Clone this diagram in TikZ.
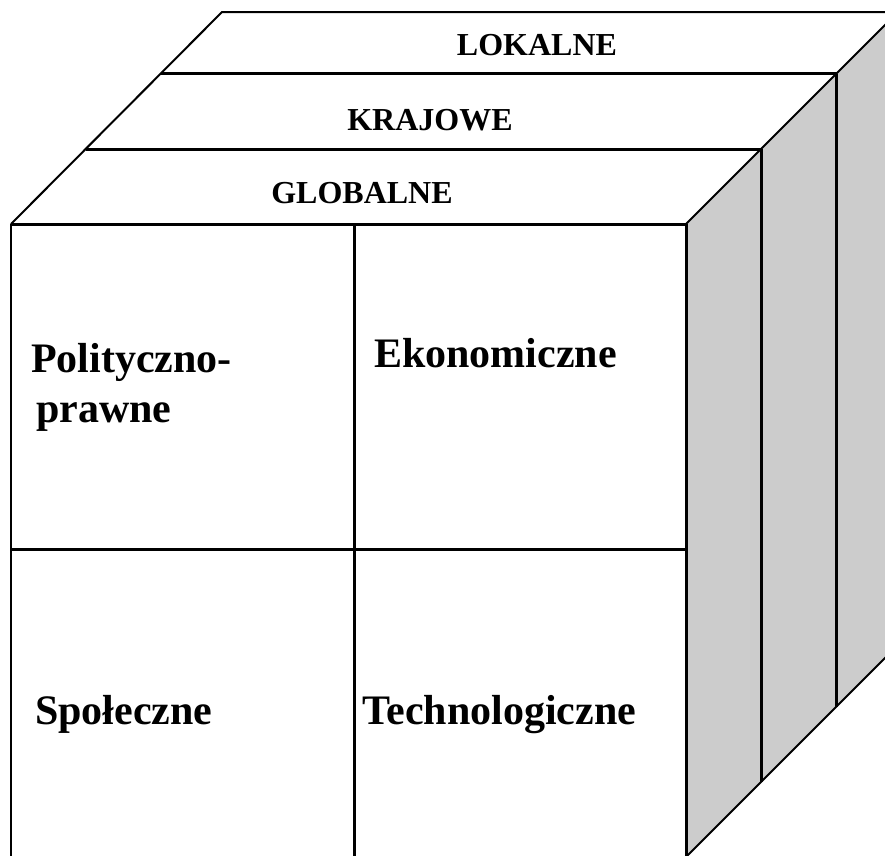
\documentclass[tikz,border=0pt]{standalone}
\usepackage{fontspec}
\setmainfont{Liberation Serif}
\definecolor{sideface}{HTML}{CCCCCC}
\begin{document}
\begin{tikzpicture}[x=1pt,y=-1pt,
  edge/.style={line width=2pt,line join=miter},
  grid/.style={line width=3pt},
  layerlabel/.style={inner sep=0pt,anchor=base,font=\bfseries\fontsize{32}{38}\selectfont},
  fieldlabel/.style={inner sep=0pt,anchor=base west,font=\bfseries\fontsize{42}{50}\selectfont}]
\useasboundingbox (0,0) rectangle (885,855);
\clip (0,0) rectangle (885,855);

% cube corners (pixel-style units)
\coordinate (ftl) at (11,224);
\coordinate (ftr) at (686,224);
\coordinate (fbl) at (11,857);
\coordinate (fbr) at (686,857);
\coordinate (btl) at (222,12);
\coordinate (btr) at (898,12);
\coordinate (bbr) at (898,645);

% side face
\fill[sideface] (ftr) -- (btr) -- (bbr) -- (fbr) -- cycle;
\draw[edge] (ftr) -- (btr);
\draw[edge] (fbr) -- (bbr);
\coordinate (s1t) at (761,149);
\coordinate (s1b) at (761,782);
\coordinate (s2t) at (836,74);
\coordinate (s2b) at (836,707);
\draw[grid] (s1t) -- (s1b);
\draw[grid] (s2t) -- (s2b);

% top face
\draw[edge] (ftl) -- (btl) -- (btr);
\coordinate (t1l) at (161,73);
\coordinate (t1r) at (837,73);
\coordinate (t2l) at (86,149);
\coordinate (t2r) at (762,149);
\draw[grid] (t1l) -- (t1r);
\draw[grid] (t2l) -- (t2r);

% front face
\draw[grid] (ftl) -- (ftr);
\draw[edge] (ftl) -- (fbl);
\draw[grid] (ftr) -- (fbr);
\coordinate (mh1) at (11,549);
\coordinate (mh2) at (686,549);
\coordinate (mv1) at (354,224);
\coordinate (mv2) at (354,857);
\draw[grid] (mh1) -- (mh2);
\draw[grid] (mv1) -- (mv2);

% layer labels
\node[layerlabel] (lok) at (537,55) {LOKALNE};
\node[layerlabel] (kraj) at (430,130) {KRAJOWE};
\node[layerlabel] (glob) at (362,203) {GLOBALNE};

% field labels
\node[fieldlabel] (polit) at (31,372) {Polityczno-};
\node[fieldlabel] (prawne) at (36,422) {prawne};
\node[fieldlabel] (ekon) at (374,367) {Ekonomiczne};
\node[fieldlabel] (spol) at (35,724) {Społeczne};
\node[fieldlabel] (tech) at (362,724) {Technologiczne};
\end{tikzpicture}
\end{document}
